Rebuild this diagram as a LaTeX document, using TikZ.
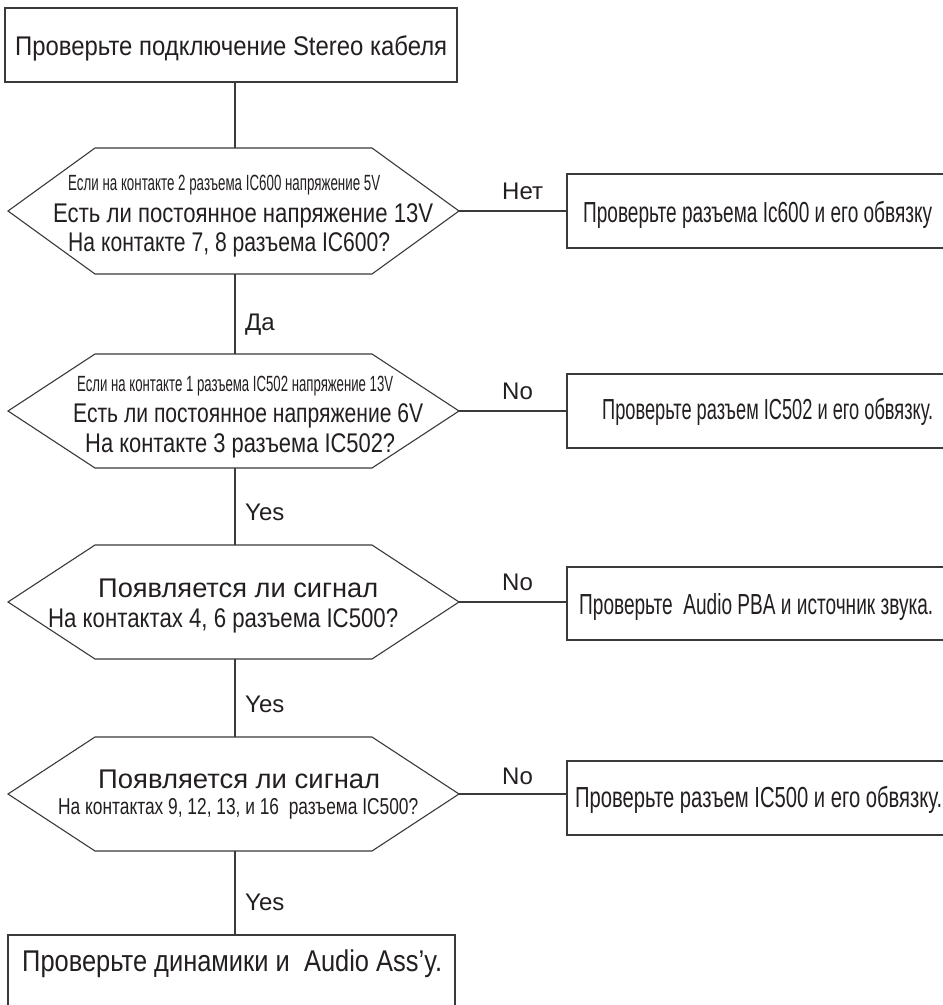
\documentclass[tikz,border=0pt]{standalone}
\usepackage{fontspec}
\setmainfont{Liberation Sans}
\usepackage{graphicx}
\newcommand{\fitw}[2]{\resizebox{#1}{\height}{#2}}
\newcommand{\hexdraw}[1]{\draw[lnst] (#1.west) -- ([xshift=87pt]#1.north west) -- ([xshift=-87pt]#1.north east) -- (#1.east) -- ([xshift=-87pt]#1.south east) -- ([xshift=87pt]#1.south west) -- cycle;}
\definecolor{ln}{HTML}{3A3A3A}
\definecolor{tx}{HTML}{231F20}
\begin{document}
\begin{tikzpicture}[x=1pt,y=-1pt,
  lnst/.style={draw=ln,line width=1.1pt},
  boxst/.style={lnst,anchor=north west,inner sep=0pt,outer sep=0pt},
  hexst/.style={shape=rectangle,inner sep=0pt,outer sep=0pt,minimum width=451pt},
  tbig/.style={anchor=base west,inner sep=0pt,text=tx,font=\fontsize{27}{30}\selectfont},
  tsmall/.style={anchor=base west,inner sep=0pt,text=tx,font=\fontsize{22}{26}\selectfont},
  tbox/.style={anchor=base west,inner sep=0pt,text=tx,font=\fontsize{29}{32}\selectfont},
  tlab/.style={anchor=base west,inner sep=0pt,text=tx,font=\fontsize{24}{28}\selectfont}]
\useasboundingbox (0,0) rectangle (943,1005);
\fill[white] (0,0) rectangle (943,1005);
\coordinate (v) at (235,0);

% boxes
\node[boxst,minimum width=452pt,minimum height=74pt] (top) at (5,8) {};
\node[boxst,minimum width=390pt,minimum height=74pt] (b1) at (567,174) {};
\node[boxst,minimum width=390pt,minimum height=74pt] (b2) at (567,374) {};
\node[boxst,minimum width=390pt,minimum height=73pt] (b3) at (567,567) {};
\node[boxst,minimum width=390pt,minimum height=74pt] (b4) at (567,761) {};
\node[boxst,minimum width=447pt,minimum height=90pt] (fin) at (8,935) {};

% hexagons
\node[hexst,minimum height=126pt] (h1) at (233.5,211) {};
\node[hexst,minimum height=114pt] (h2) at (233.5,411) {};
\node[hexst,minimum height=114pt] (h3) at (233.5,602) {};
\node[hexst,minimum height=114pt] (h4) at (233.5,794) {};
\hexdraw{h1}\hexdraw{h2}\hexdraw{h3}\hexdraw{h4}

% texts
\node[tbig] (ttop) at (15,55) {\fitw{432pt}{Проверьте подключение Stereo кабеля}};
\node[tsmall] (h1a) at (68,190) {\fitw{312pt}{Если на контакте 2 разъема IC600 напряжение 5V}};
\node[tbig] (h1b) at (53,222) {\fitw{380pt}{Есть ли постоянное напряжение 13V}};
\node[tbig] (h1c) at (68,251) {\fitw{322pt}{На контакте 7, 8 разъема IC600?}};
\node[tsmall] (h2a) at (77,391) {\fitw{316pt}{Если на контакте 1 разъема IC502 напряжение 13V}};
\node[tbig] (h2b) at (73,422) {\fitw{350pt}{Есть ли постоянное напряжение 6V}};
\node[tbig] (h2c) at (85,452) {\fitw{310pt}{На контакте 3 разъема IC502?}};
\node[tbig] (h3a) at (98,597) {\fitw{280pt}{Появляется ли сигнал}};
\node[tbig] (h3b) at (48,627) {\fitw{350pt}{На контактах 4, 6 разъема IC500?}};
\node[tbig] (h4a) at (98,788) {\fitw{282pt}{Появляется ли сигнал}};
\node[tsmall,font=\fontsize{23}{26}\selectfont] (h4b) at (58,814) {\fitw{360pt}{На контактах 9, 12, 13, и 16\ \ разъема IC500?}};
\node[tbox] (tb1) at (583,222) {\fitw{349pt}{Проверьте разъема Ic600 и его обвязку}};
\node[tbox] (tb2) at (602,419) {\fitw{331pt}{Проверьте разъем IC502 и его обвязку.}};
\node[tbox] (tb3) at (579,614) {\fitw{354pt}{Проверьте\ \ Audio PBA и источник звука.}};
\node[tbox] (tb4) at (575,807) {\fitw{367pt}{Проверьте разъем IC500 и его обвязку.}};
\node[tbox,font=\fontsize{30}{33}\selectfont] (tfin) at (22,971) {\fitw{420pt}{Проверьте динамики и\ \ Audio Ass’y.}};

% connectors
\draw[lnst] (v |- top.south) -- (v |- h1.north);
\draw[lnst] (v |- h1.south) -- (v |- h2.north);
\draw[lnst] (v |- h2.south) -- (v |- h3.north);
\draw[lnst] (v |- h3.south) -- (v |- h4.north);
\draw[lnst] (v |- h4.south) -- (v |- fin.north);
\draw[lnst] (h1.east) -- (h1.east -| b1.west);
\draw[lnst] (h2.east) -- (h2.east -| b2.west);
\draw[lnst] (h3.east) -- (h3.east -| b3.west);
\draw[lnst] (h4.east) -- (h4.east -| b4.west);

% labels
\node[tlab] (l1) at (502,199) {Нет};
\node[tlab] (l2) at (502,399) {No};
\node[tlab] (l3) at (502,590) {No};
\node[tlab] (l4) at (502,784) {No};
\node[tlab] (y1) at (245,330) {Да};
\node[tlab] (y2) at (245,520) {Yes};
\node[tlab] (y3) at (245,712) {Yes};
\node[tlab] (y4) at (245,910) {Yes};
\end{tikzpicture}
\end{document}
